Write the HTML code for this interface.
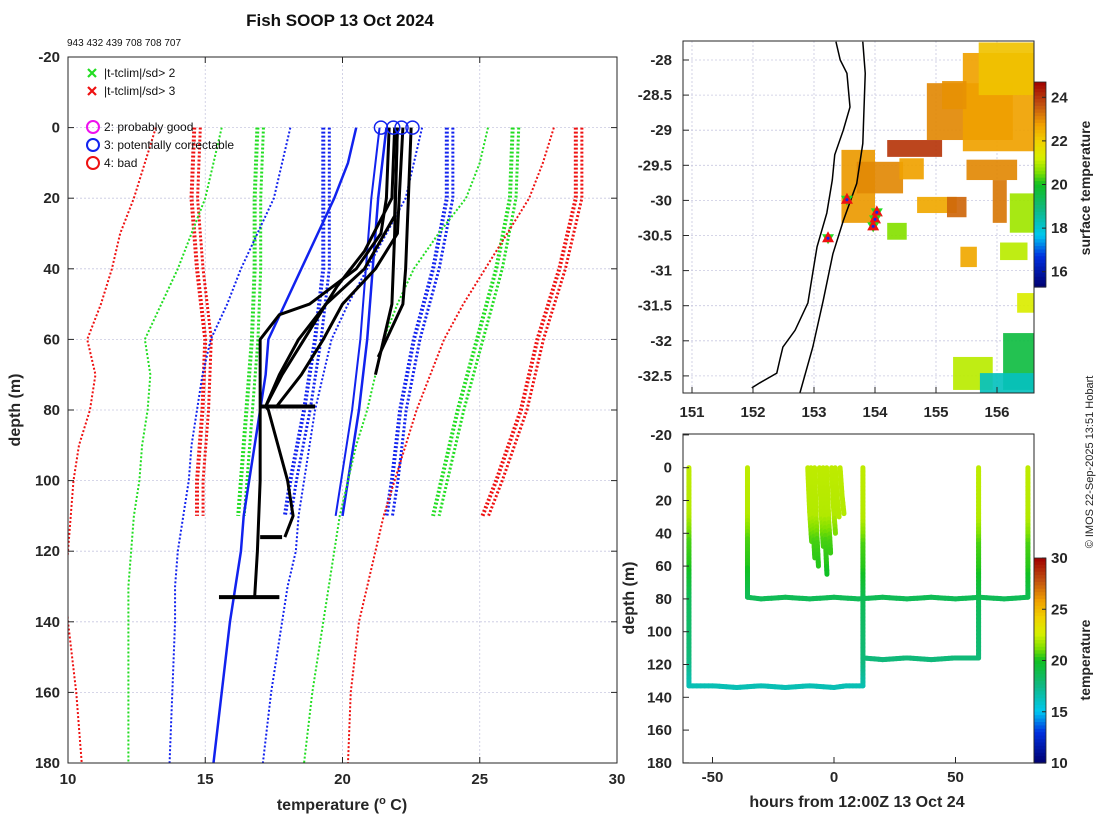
<!DOCTYPE html>
<html><head><meta charset="utf-8"><title>Fish SOOP 13 Oct 2024</title>
<style>
html,body{margin:0;padding:0;background:#fff;}
svg{display:block;font-family:"Liberation Sans",sans-serif;}
.tk{font-size:15px;font-weight:bold;fill:#262626;}
</style></head>
<body>
<svg id="fig" width="1100" height="820" viewBox="0 0 1100 820" xmlns="http://www.w3.org/2000/svg">
<defs>
<clipPath id="cpMain"><rect x="68" y="57" width="549" height="706"/></clipPath>
<clipPath id="cpMap"><rect x="683" y="41" width="351" height="352"/></clipPath>
<clipPath id="cpTr"><rect x="683" y="434" width="351" height="329"/></clipPath>
</defs>
<text x="340" y="26" text-anchor="middle" font-size="17" font-weight="bold" fill="#111">Fish SOOP 13 Oct 2024</text>
<text x="67" y="46" font-size="10" fill="#111">943 432 439 708 708 707</text>
<g id="gMain"></g>
<g id="gMap"></g>
<g id="gTr"></g>
<text x="20" y="410" transform="rotate(-90 20 410)" text-anchor="middle" font-size="16" font-weight="bold" fill="#262626">depth (m)</text>
<text x="342" y="810" text-anchor="middle" font-size="16" font-weight="bold" fill="#262626">temperature (<tspan font-size="11" dy="-6">o</tspan><tspan dy="6"> C)</tspan></text>
<text x="857" y="807" text-anchor="middle" font-size="16" font-weight="bold" fill="#262626">hours from 12:00Z 13 Oct 24</text>
<text x="634" y="598" transform="rotate(-90 634 598)" text-anchor="middle" font-size="16" font-weight="bold" fill="#262626">depth (m)</text>
<text x="1090" y="188" transform="rotate(-90 1090 188)" text-anchor="middle" font-size="14" font-weight="bold" fill="#262626">surface temperature</text>
<text x="1090" y="660" transform="rotate(-90 1090 660)" text-anchor="middle" font-size="14" font-weight="bold" fill="#262626">temperature</text>
<text x="1093" y="462" transform="rotate(-90 1093 462)" text-anchor="middle" font-size="11" fill="#222">© IMOS 22-Sep-2025 13:51 Hobart</text>
</svg>
<script>
// ---------- main profile data ----------
const deepDepths=[0,10,20,30,40,50,60,70,80,90,100,110,120,130,140,160,180];
const deepRedL =[13.2,12.8,12.4,11.9,11.6,11.2,10.7,11.0,10.8,10.4,10.2,10.1,10.0,9.9,10.0,10.3,10.5];
const deepGreenL=[15.6,15.3,15.0,14.5,14.0,13.4,12.8,13.0,12.9,12.7,12.6,12.4,12.3,12.2,12.2,12.2,12.2];
const deepBlueL=[18.1,17.8,17.5,16.9,16.3,15.8,15.2,14.9,14.7,14.5,14.4,14.2,14.0,13.9,13.9,13.8,13.7];
const deepMean=[20.5,20.2,19.7,19.1,18.5,17.9,17.3,17.2,17.0,16.8,16.6,16.4,16.3,16.1,15.9,15.6,15.3];
const deepBlueR=[22.9,22.6,22.3,21.6,20.9,20.2,19.6,19.3,19.0,18.8,18.6,18.4,18.3,18.0,17.8,17.4,17.1];
const deepGreenR=[25.3,25.0,24.5,23.5,22.6,22.0,21.5,21.2,20.9,20.5,20.2,19.9,19.7,19.5,19.3,18.9,18.6];
const deepRedR=[27.7,27.3,26.8,26.0,25.2,24.4,23.7,23.2,22.7,22.3,21.9,21.5,21.2,20.9,20.6,20.3,20.2];
const shDepths=[0,20,40,60,80,100,110];
const shRedL=[14.6,14.5,14.7,15.0,14.9,14.7,14.7];
const shGreenL=[16.9,16.8,16.8,16.7,16.5,16.3,16.2];
const shBlueL=[19.3,19.3,19.3,19.0,18.6,18.1,17.9];
const shMean=[21.6,21.3,21.1,20.9,20.6,20.2,20.0];
const shBlueR=[23.8,23.8,23.3,22.6,22.1,21.8,21.6];
const shGreenR=[26.2,26.1,25.6,24.9,24.2,23.6,23.3];
const shRedR=[28.5,28.5,27.9,27.1,26.5,25.6,25.1];
const blkDepths=[
 [0,20,30,40,50,53,60,80,100,120,133],
 [0,20,35,45,60,70,79,80,100,110,116],
 [0,25,40,50,60,70,79],
 [0,30,40,50,60,70,79],
 [0,20,40,50,60,65],
 [0,30,50,60,70]];
const blkTemps=[
 [21.7,21.6,21.4,20.5,18.8,17.7,17.0,17.0,17.0,16.9,16.8],
 [21.9,21.8,20.8,19.8,18.6,17.8,17.2,17.3,18.0,18.2,17.9],
 [22.0,21.9,20.8,19.4,18.4,17.7,17.2],
 [22.2,22.0,21.2,20.0,19.3,18.5,17.6],
 [22.5,22.4,22.3,22.2,21.6,21.3],
 [22.0,21.9,21.8,21.5,21.2]];
const spikeDepths=[133,116,79];
const spikeT0=[15.5,17.0,17.0];
const spikeT1=[17.7,17.8,19.0];
const circleTemps=[21.4,21.85,22.15,22.55];
const xTicks=[10,15,20,25,30];
const yTicks=[-20,0,20,40,60,80,100,120,140,160,180];

// ---------- map data ----------
const coastLon=[153.36,153.43,153.54,153.59,153.48,153.34,153.30,153.21,153.05,152.98,152.90,152.69,152.49,152.44,152.39,152.11,151.98];
const coastLat=[-27.74,-28.0,-28.19,-28.67,-29.0,-29.35,-29.71,-30.18,-30.66,-31.03,-31.46,-31.85,-32.09,-32.27,-32.46,-32.6,-32.67];
const shelfLon=[153.80,153.84,153.80,153.70,153.48,153.31,153.15,152.98,152.77];
const shelfLat=[-27.74,-28.19,-29.19,-29.76,-30.29,-30.76,-31.43,-32.09,-32.74];
const stnLon=[153.54,154.03,154.0,153.97,153.23];
const stnLat=[-29.99,-30.17,-30.27,-30.37,-30.54];
const blobLon0=[154.85,155.44,155.7,154.2,153.45,153.7,154.69,155.5,155.93,156.21,156.05,156.33,155.28,156.1,155.72,154.2,155.4,155.18,155.1,154.4];
const blobLon1=[156.26,156.6,156.6,155.1,154.0,154.46,155.34,156.33,156.16,156.6,156.5,156.6,155.93,156.6,156.6,154.52,155.67,155.5,155.5,154.8];
const blobLat0=[-28.33,-27.9,-27.75,-29.14,-29.28,-29.45,-29.95,-29.42,-29.71,-29.9,-30.6,-31.32,-32.23,-31.89,-32.46,-30.32,-30.66,-29.95,-28.3,-29.4];
const blobLat1=[-29.14,-29.3,-28.5,-29.38,-30.32,-29.9,-30.18,-29.71,-30.32,-30.46,-30.85,-31.6,-32.7,-32.7,-32.74,-30.56,-30.95,-30.24,-28.7,-29.7];
const blobVal=[23.0,22.7,22.2,24.0,22.8,23.0,22.6,23.0,23.2,20.8,21.0,21.3,21.0,19.6,18.2,20.6,22.6,23.4,22.9,22.7];
const lonTicks=[151,152,153,154,155,156];
const latTicks=[-28,-28.5,-29,-29.5,-30,-30.5,-31,-31.5,-32,-32.5];
const sstTicks=[16,18,20,22,24];

// ---------- track data ----------
const trHours=[
 [-59.7,-59.7,-59.7,-59.7,-59.7,-50,-40,-30,-20,-10,0,5,11.9,11.9,11.9,11.9,11.9,11.9],
 [-35.6,-35.6,-35.6,-35.6,-35.6,-30,-20,-10,0,10,20,30,40,50,60,70,79.8,79.8,79.8,79.8],
 [11.9,20,30,40,50,59.5,59.5,59.5,59.5,59.5]];
const trDepths=[
 [0,30,60,100,133,133,134,133,134,133,134,133,133,100,80,60,30,0],
 [0,30,50,70,79,80,79,80,79,80,79,80,79,80,79,80,79,60,30,0],
 [116,117,116,117,116,116,80,60,30,0]];
const castHours=[-10.8,-9.5,-8,-6,-4.5,-3,-1,0.5,2.5];
const castMax=[45,55,60,48,65,52,40,30,28];
const profDepth=[0,30,45,60,80,116,133];
const profTemp=[22.2,22.0,20.6,20.2,18.6,17.8,16.4];
const hourTicks=[-50,0,50];
const trYTicks=[-20,0,20,40,60,80,100,120,140,160,180];
const tempCbTicks=[10,15,20,25,30];

// ---------- helpers ----------
const NS='http://www.w3.org/2000/svg';
function mk(tag,attrs,parent){const e=document.createElementNS(NS,tag);for(const k in attrs)e.setAttribute(k,attrs[k]);parent.appendChild(e);return e;}
const cmStops=[[0,[0,0,112]],[0.15,[0,48,224]],[0.25,[0,200,240]],[0.38,[16,184,128]],[0.5,[16,192,32]],[0.56,[128,224,0]],[0.63,[216,240,0]],[0.71,[240,208,0]],[0.79,[240,160,0]],[0.89,[192,80,16]],[1,[160,0,0]]];
function cmap(f){f=Math.max(0,Math.min(1,f));for(let i=1;i<cmStops.length;i++){if(f<=cmStops[i][0]){const a=cmStops[i-1],b=cmStops[i];const r=(f-a[0])/(b[0]-a[0]);const c=a[1].map((v,j)=>Math.round(v+(b[1][j]-v)*r));return 'rgb('+c.join(',')+')';}}return 'rgb(160,0,0)';}

// ---------- main ----------
const gM=document.getElementById('gMain');
const tx=t=>68+(t-10)*27.45, dy=d=>127.6+d*3.53;
mk('rect',{x:68,y:57,width:549,height:706,fill:'#fff'},gM);
const gridG=mk('g',{},gM);
xTicks.slice(1,-1).forEach(t=>mk('line',{x1:tx(t),x2:tx(t),y1:57,y2:763,stroke:'#c8c8e0','stroke-dasharray':'2,2','stroke-width':0.8},gridG));
yTicks.slice(1,-1).forEach(d=>mk('line',{x1:68,x2:617,y1:dy(d),y2:dy(d),stroke:'#c8c8e0','stroke-dasharray':'2,2','stroke-width':0.8},gridG));
const clipM=mk('g',{'clip-path':'url(#cpMain)'},gM);
function prof(ds,ts,color,w,dash,name){const p=mk('polyline',{points:ds.map((d,i)=>tx(ts[i])+','+dy(d)).join(' '),fill:'none',stroke:color,'stroke-width':w,'stroke-linejoin':'round'},clipM);if(dash)p.setAttribute('stroke-dasharray',dash);

}
const G='#22dd22',R='#ee1111',B='#1122ee';
[[shRedL,R,'clim-3sd-low-shallow'],[shGreenL,G,'clim-2sd-low-shallow'],[shBlueL,B,'clim-1sd-low-shallow'],[shBlueR,B,'clim-1sd-high-shallow'],[shGreenR,G,'clim-2sd-high-shallow'],[shRedR,R,'clim-3sd-high-shallow']].forEach(a=>{
 prof(shDepths,a[0],a[1],4,'2,2',a[2]);prof(shDepths,a[0].map(v=>v+0.22),a[1],3,'2,2',a[2]+'-b');});
prof(shDepths,shMean,B,2.5,null,'clim-mean-shallow');prof(shDepths,shMean.map(v=>v-0.25),B,2,null,'clim-mean-shallow-b');
[[deepRedL,R,'clim-3sd-low'],[deepGreenL,G,'clim-2sd-low'],[deepBlueL,B,'clim-1sd-low'],[deepBlueR,B,'clim-1sd-high'],[deepGreenR,G,'clim-2sd-high'],[deepRedR,R,'clim-3sd-high']].forEach(a=>prof(deepDepths,a[0],a[1],2,'2,2',a[2]));
prof(deepDepths,deepMean,B,2.5,null,'clim-mean');
blkTemps.forEach((ts,i)=>prof(blkDepths[i],ts,'#000',3,null,'measured-profile-'+(i+1)));
spikeDepths.forEach((d,i)=>{const l=mk('line',{x1:tx(spikeT0[i]),x2:tx(spikeT1[i]),y1:dy(d),y2:dy(d),stroke:'#000','stroke-width':4},clipM);

});
circleTemps.forEach((t,i)=>{const c=mk('circle',{cx:tx(t),cy:dy(0),r:6.5,fill:'none',stroke:B,'stroke-width':1.5},clipM);

});
mk('rect',{x:68,y:57,width:549,height:706,fill:'none',stroke:'#262626','stroke-width':1},gM);
xTicks.forEach(t=>{mk('line',{x1:tx(t),x2:tx(t),y1:763,y2:757,stroke:'#262626'},gM);mk('line',{x1:tx(t),x2:tx(t),y1:57,y2:63,stroke:'#262626'},gM);
const l=mk('text',{x:tx(t),y:784,'text-anchor':'middle',class:'tk'},gM);l.textContent=t;

});
yTicks.forEach(d=>{mk('line',{x1:68,x2:74,y1:dy(d),y2:dy(d),stroke:'#262626'},gM);mk('line',{x1:611,x2:617,y1:dy(d),y2:dy(d),stroke:'#262626'},gM);
const l=mk('text',{x:60,y:dy(d)+5,'text-anchor':'end',class:'tk'},gM);l.textContent=d;

});
// legend
const lg=mk('g',{},gM);
[[73,'#22dd22','|t-tclim|/sd> 2'],[91,'#ee1111','|t-tclim|/sd> 3']].forEach(a=>{
 mk('path',{d:`M88 ${a[0]-4} l8 8 M96 ${a[0]-4} l-8 8`,stroke:a[1],'stroke-width':2.2},lg);
 const t=mk('text',{x:104,y:a[0]+4,'font-size':12,fill:'#111'},lg);t.textContent=a[2];});
[[127,'#ee11ee','2: probably good'],[145,'#1122ee','3: potentially correctable'],[163,'#ee1111','4: bad']].forEach(a=>{
 mk('circle',{cx:93,cy:a[0],r:6,fill:'none',stroke:a[1],'stroke-width':2},lg);
 const t=mk('text',{x:104,y:a[0]+4,'font-size':12,fill:'#111'},lg);t.textContent=a[2];});

// ---------- map ----------
const gP=document.getElementById('gMap');
const lx=l=>692+(l-151)*61, ly=la=>60+(-28-la)*70.2;
mk('rect',{x:683,y:41,width:351,height:352,fill:'#fff'},gP);
lonTicks.forEach(l=>mk('line',{x1:lx(l),x2:lx(l),y1:41,y2:393,stroke:'#c8c8e0','stroke-dasharray':'2,2','stroke-width':0.8},gP));
latTicks.forEach(l=>mk('line',{x1:683,x2:1034,y1:ly(l),y2:ly(l),stroke:'#c8c8e0','stroke-dasharray':'2,2','stroke-width':0.8},gP));
const clipP=mk('g',{'clip-path':'url(#cpMap)'},gP);
blobVal.forEach((v,i)=>{const r=mk('rect',{x:lx(blobLon0[i]),y:ly(blobLat0[i]),width:lx(blobLon1[i])-lx(blobLon0[i]),height:ly(blobLat1[i])-ly(blobLat0[i]),fill:cmap((v-15.3)/9.4),opacity:0.92},clipP);

});
mk('polyline',{points:coastLon.map((l,i)=>lx(l)+','+ly(coastLat[i])).join(' '),fill:'none',stroke:'#000','stroke-width':1.5,},clipP);
mk('polyline',{points:shelfLon.map((l,i)=>lx(l)+','+ly(shelfLat[i])).join(' '),fill:'none',stroke:'#000','stroke-width':1.5,},clipP);
stnLon.forEach((l,i)=>{const x=lx(l),y=ly(stnLat[i]);
 mk('path',{d:`M${x-6} ${y-4} h12 l-6 10 z`,fill:'#22dd22'},clipP);
 const t=mk('path',{d:`M${x} ${y-7} l6 11 h-12 z`,fill:'#ee1111'},clipP);
 
 
 mk('circle',{cx:x,cy:y,r:1.5,fill:'#1122ee'},clipP);});
mk('rect',{x:683,y:41,width:351,height:352,fill:'none',stroke:'#262626'},gP);
lonTicks.forEach(l=>{mk('line',{x1:lx(l),x2:lx(l),y1:393,y2:387,stroke:'#262626'},gP);
const t=mk('text',{x:lx(l),y:417,'text-anchor':'middle',class:'tk'},gP);t.textContent=l;

});
latTicks.forEach(l=>{mk('line',{x1:683,x2:689,y1:ly(l),y2:ly(l),stroke:'#262626'},gP);
const t=mk('text',{x:672,y:ly(l)+5,'text-anchor':'end',class:'tk'},gP);t.textContent=l;

});
// sst colorbar
const cb1=mk('g',{},gP);
for(let i=0;i<60;i++){mk('rect',{x:1034,y:82+205*i/60,width:12,height:205/60+0.6,fill:cmap(1-(i+0.5)/60)},cb1);}
mk('rect',{x:1034,y:82,width:12,height:205,fill:'none',stroke:'#262626','stroke-width':0.8},cb1);
const sy=v=>287-(v-15.3)/9.4*205;
sstTicks.forEach(v=>{mk('line',{x1:1042,x2:1046,y1:sy(v),y2:sy(v),stroke:'#262626'},cb1);
const t=mk('text',{x:1051,y:sy(v)+5,class:'tk'},cb1);t.textContent=v;});

// ---------- track ----------
const gT=document.getElementById('gTr');
const hx=h=>834+h*2.43, ty=d=>467.7+d*1.64;
mk('rect',{x:683,y:434,width:351,height:329,fill:'#fff'},gT);
const clipT=mk('g',{'clip-path':'url(#cpTr)'},gT);
function tempAt(d){for(let i=1;i<profDepth.length;i++){if(d<=profDepth[i]){const r=(d-profDepth[i-1])/(profDepth[i]-profDepth[i-1]);return profTemp[i-1]+(profTemp[i]-profTemp[i-1])*r;}}return profTemp[profTemp.length-1];}
function seg(h0,d0,h1,d1,w){const n=Math.max(1,Math.ceil(Math.hypot(hx(h1)-hx(h0),ty(d1)-ty(d0))/4));
 for(let k=0;k<n;k++){const a=k/n,b=(k+1)/n;const ha=h0+(h1-h0)*a,da=d0+(d1-d0)*a,hb=h0+(h1-h0)*b,db=d0+(d1-d0)*b;
 mk('line',{x1:hx(ha),y1:ty(da),x2:hx(hb),y2:ty(db),stroke:cmap((tempAt((da+db)/2)-10)/20),'stroke-width':w,'stroke-linecap':'round'},clipT);}}
trHours.forEach((hs,i)=>{for(let j=1;j<hs.length;j++)seg(hs[j-1],trDepths[i][j-1],hs[j],trDepths[i][j],5);});
castHours.forEach((h,i)=>{seg(h,0,h+0.8,castMax[i]*0.6,5);seg(h+0.8,castMax[i]*0.6,h+1.6,castMax[i],5);});
mk('rect',{x:683,y:434,width:351,height:329,fill:'none',stroke:'#262626'},gT);
hourTicks.forEach(h=>{mk('line',{x1:hx(h),x2:hx(h),y1:763,y2:757,stroke:'#262626'},gT);
const t=mk('text',{x:hx(h),y:782,'text-anchor':'middle',class:'tk'},gT);t.textContent=h;

});
trYTicks.forEach(d=>{mk('line',{x1:683,x2:689,y1:ty(d),y2:ty(d),stroke:'#262626'},gT);
const t=mk('text',{x:672,y:ty(d)+5,'text-anchor':'end',class:'tk'},gT);t.textContent=d;

});
const cb2=mk('g',{},gT);
for(let i=0;i<60;i++){mk('rect',{x:1034,y:558+205*i/60,width:12,height:205/60+0.6,fill:cmap(1-(i+0.5)/60)},cb2);}
mk('rect',{x:1034,y:558,width:12,height:205,fill:'none',stroke:'#262626','stroke-width':0.8},cb2);
const cy2=v=>763-(v-10)/20*205;
tempCbTicks.forEach(v=>{mk('line',{x1:1042,x2:1046,y1:cy2(v),y2:cy2(v),stroke:'#262626'},cb2);
const t=mk('text',{x:1051,y:cy2(v)+5,class:'tk'},cb2);t.textContent=v;});
</script>
</body></html>
